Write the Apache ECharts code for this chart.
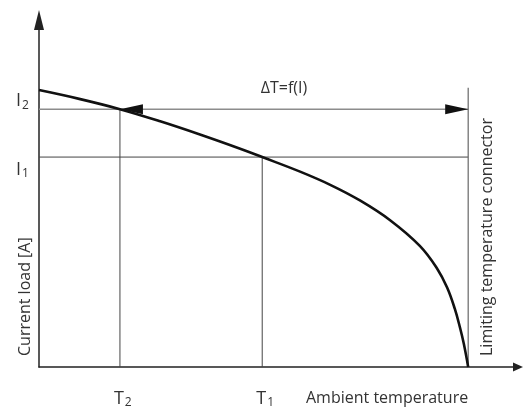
<!DOCTYPE html>
<html>
<head>
<meta charset="utf-8">
<script src="https://cdn.jsdelivr.net/npm/echarts@6/dist/echarts.min.js"></script>
<style>
  html, body { margin: 0; padding: 0; background: #fff; }
  #chart { width: 524px; height: 407px; }
</style>
</head>
<body>
<div id="chart"></div>
<script>
// derating curve (x: ambient temp, y: current load, both 0..100)
const curveT = [0, 8.6, 16.9, 25.3, 33.6, 42.0, 46.6, 54.5, 60.8, 67.0, 73.3, 79.5, 83.1, 85.2, 86.8, 87.9, 88.7, 89.6];
const curveI = [79.8, 77.2, 74.3, 70.8, 67.0, 62.9, 60.5, 56.3, 52.5, 48.0, 42.3, 34.9, 28.4, 22.9, 16.8, 11.3, 6.6, 0];

// reference points
const T2 = 16.9;
const T1 = 46.6;
const TLIM = 89.6;
const I2 = 74.3;
const I1 = 60.5;
const LIM_TOP = 80.5;

const FONT = "'Open Sans', 'DejaVu Sans', sans-serif";
const TXT = "#333";

let chart = echarts.init(document.getElementById("chart"));

function seg(a, b) {
  return [a, b];
}

const options = {
  animation: false,
  grid: { left: 39, right: 6, top: 20, bottom: 40 },
  xAxis: {
    type: "value",
    min: 0,
    max: 100,
    splitLine: { show: false },
    axisTick: { show: false },
    axisLabel: { show: false },
    axisLine: {
      show: true,
      symbol: ["none", "triangle"],
      symbolSize: [9, 10],
      lineStyle: { color: "#222", width: 1.5 }
    }
  },
  yAxis: {
    type: "value",
    min: 0,
    max: 100,
    splitLine: { show: false },
    axisTick: { show: false },
    axisLabel: { show: false },
    axisLine: {
      show: true,
      symbol: ["none", "triangle"],
      symbolSize: [10, 20],
      lineStyle: { color: "#222", width: 1.5 }
    }
  },
  series: [
    {
      // I2 level, gray, with the delta T arrow on it
      type: "line",
      symbol: "none",
      data: seg([0, I2], [TLIM, I2]),
      lineStyle: { color: "#8c8c8c", width: 1.6 },
      z: 2,
      markLine: {
        silent: true,
        symbol: ["triangle", "triangle"],
        symbolSize: [10, 23],
        label: { show: false },
        lineStyle: { color: "#111", width: 0, type: "solid" },
        data: [[{ coord: [T2 + 2.4, I2] }, { coord: [TLIM - 2.4, I2] }]]
      }
    },
    {
      // I1 level
      type: "line",
      symbol: "none",
      data: seg([0, I1], [TLIM, I1]),
      lineStyle: { color: "#444", width: 1 },
      z: 2
    },
    {
      type: "line",
      symbol: "none",
      data: seg([T2, 0], [T2, I2]),
      lineStyle: { color: "#444", width: 1 },
      z: 2
    },
    {
      type: "line",
      symbol: "none",
      data: seg([T1, 0], [T1, I1]),
      lineStyle: { color: "#444", width: 1 },
      z: 2
    },
    {
      // limiting temperature of the connector
      type: "line",
      symbol: "none",
      data: seg([TLIM, 0], [TLIM, LIM_TOP]),
      lineStyle: { color: "#666", width: 1.2 },
      z: 2
    },
    {
      type: "line",
      symbol: "none",
      smooth: 0.4,
      data: curveT.map((t, i) => [t, curveI[i]]),
      lineStyle: { color: "#111", width: 2.6 },
      z: 3
    }
  ]
};

chart.setOption(options);

// labels placed from the data scale
const p = (x, y) => chart.convertToPixel({ gridIndex: 0 }, [x, y]);
const sub = (big, small) => "{b|" + big + "}{s|" + small + "}";
const rich = {
  b: { fontFamily: FONT, fontSize: 18, fill: TXT, color: TXT },
  s: { fontFamily: FONT, fontSize: 12, fill: TXT, color: TXT, padding: [8, 0, 0, 1] }
};

function richText(x, y, str) {
  return {
    type: "text",
    x: x,
    y: y,
    style: { text: str, rich: rich, verticalAlign: "middle", align: "left" }
  };
}

const pI2 = p(0, I2), pI1 = p(0, I1), pT2 = p(T2, 0), pT1 = p(T1, 0), pLim = p(TLIM, 0);

chart.setOption({
  graphic: [
    richText(16, pI2[1] - 8, sub("I", "2")),
    richText(16, pI1[1] + 13, sub("I", "1")),
    richText(pT2[0] - 6, pT2[1] + 32, sub("T", "2")),
    richText(pT1[0] - 6, pT1[1] + 32, sub("T", "1")),
    {
      type: "text",
      x: 306,
      y: pT1[1] + 31,
      style: { text: "Ambient temperature", font: "16px " + FONT, fill: TXT, verticalAlign: "middle" }
    },
    {
      type: "text",
      x: 284,
      y: 88,
      style: { text: "\u0394T=f(I)", font: "16px " + FONT, fill: TXT, align: "center", verticalAlign: "middle" }
    },
    {
      type: "text",
      x: 25,
      y: 356,
      rotation: Math.PI / 2,
      style: { text: "Current load [A]", font: "16px " + FONT, fill: TXT, align: "left", verticalAlign: "middle" }
    },
    {
      type: "text",
      x: pLim[0] + 19,
      y: 356,
      rotation: Math.PI / 2,
      style: { text: "Limiting temperature connector", font: "16px " + FONT, fill: TXT, align: "left", verticalAlign: "middle" }
    }
  ]
});

window.addEventListener("resize", function () {
  chart.resize();
});
</script>
</body>
</html>
